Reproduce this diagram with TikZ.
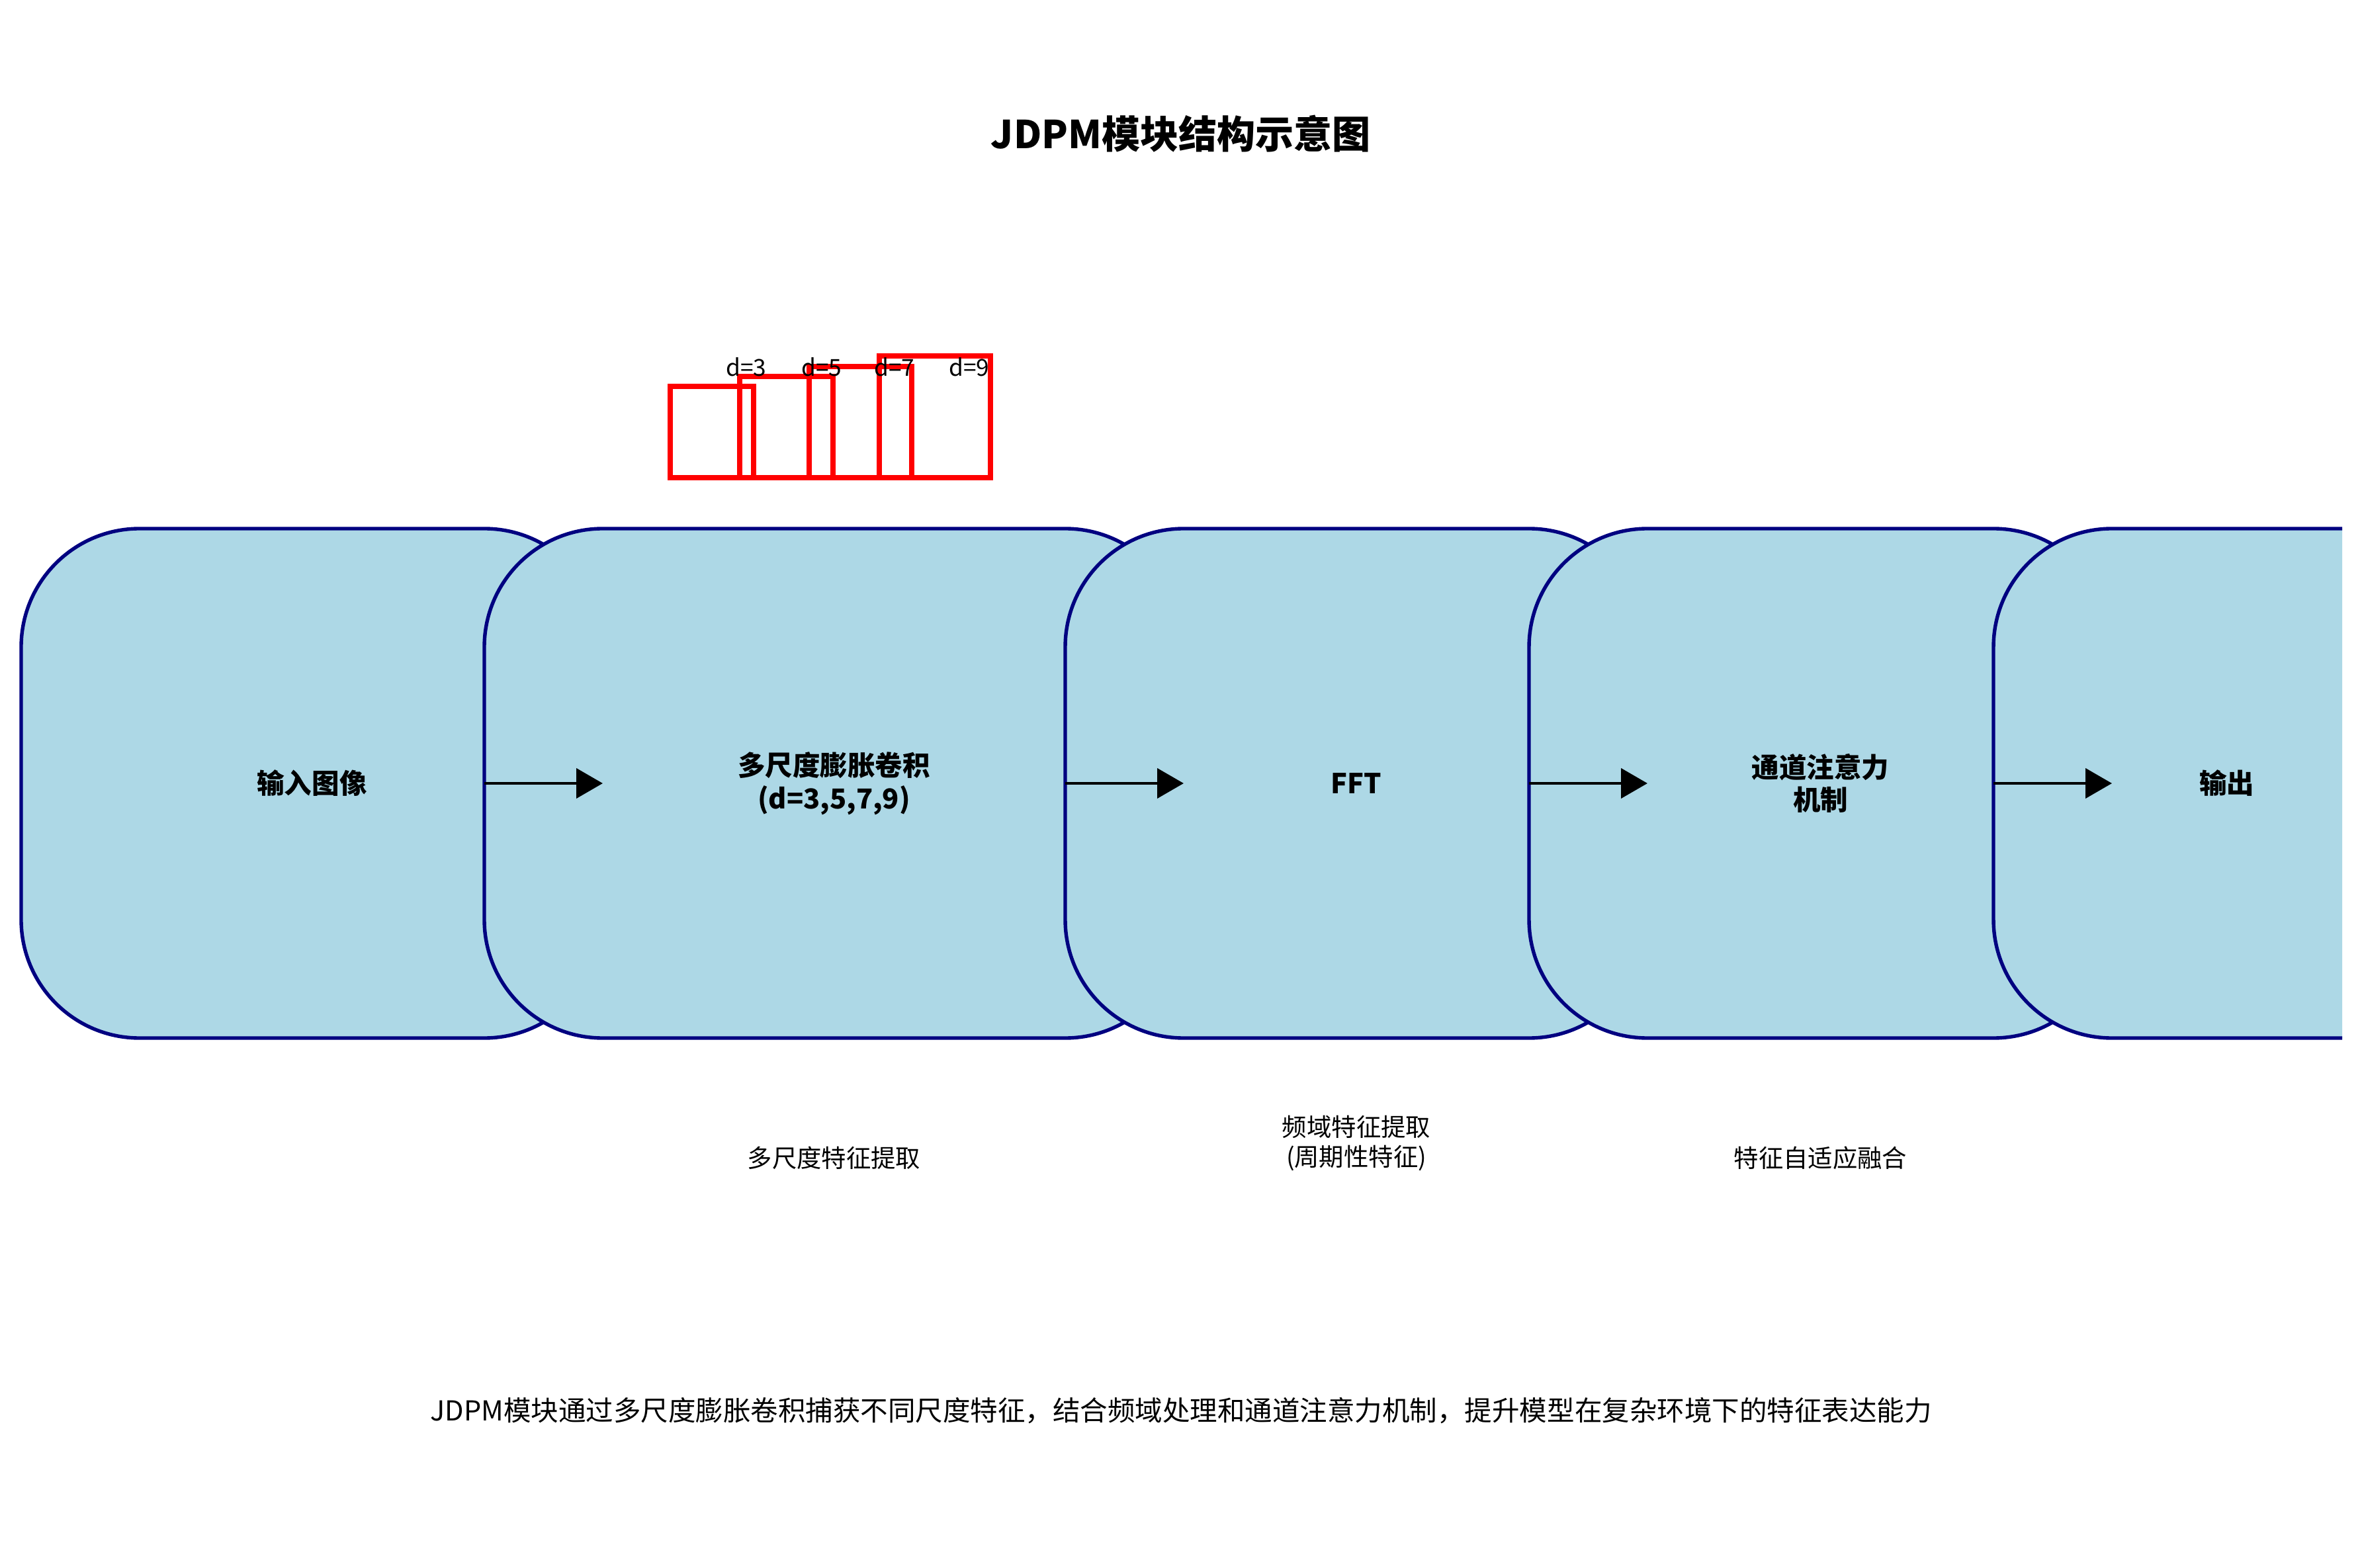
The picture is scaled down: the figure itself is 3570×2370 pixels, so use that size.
\documentclass[tikz,border=0pt]{standalone}
\usepackage{fontspec}
\setmainfont{Noto Sans CJK SC}
\usetikzlibrary{arrows.meta}

\definecolor{boxline}{HTML}{000080}
\definecolor{boxfill}{HTML}{ADD8E6}
\def\pxu{0.2409pt}
\def\pad{43.12pt}

\tikzset{
  stage/.style={draw=boxline, line width=1.3pt, fill=boxfill, rounded corners=\pad,
    minimum height=185.5pt, inner sep=0pt, outer sep=0pt, align=center,
    font=\fontsize{10}{12}\selectfont\bfseries},
  flow/.style={-{Triangle[length=9.6pt,width=10.8pt]}, line width=1.1pt, black},
  note/.style={inner sep=0pt, align=center, font=\fontsize{9}{11}\selectfont},
  dil/.style={draw=red, line width=1.9pt},
}

\begin{document}
\begin{tikzpicture}[x=\pxu, y=-\pxu]
\useasboundingbox (0,0) rectangle (3570,2370);

\node[font=\fontsize{14}{17}\selectfont\bfseries, inner sep=0pt] (title) at (1785,202) {JDPM模块结构示意图};

% dilated kernels
\foreach \l/\t/\r in {1013/584/1139, 1118/569/1259, 1223/554/1378, 1329/538/1497}
  \draw[dil] (\l,\t) rectangle (\r,722);
\foreach \d/\c in {3/1128, 5/1242, 7/1352, 9/1465}
  \node[font=\fontsize{8.5}{10}\selectfont, anchor=base, inner sep=0pt] (d\d) at (\c,569) {d=\d};

% stages
\begin{scope}
\clip (0,0) rectangle (3540,2370);
\node[stage, minimum width=879*\pxu] (input) at (471.5,1184) {输入图像};
\node[stage, minimum width=1057*\pxu] (conv) at (1260.5,1184) {多尺度膨胀卷积\\(d=3,5,7,9)};
\node[stage, minimum width=880*\pxu] (fft) at (2050,1184) {FFT};
\node[stage, minimum width=881*\pxu] (att) at (2751.5,1184) {通道注意力\\机制};
\node[stage, minimum width=705*\pxu] (out) at (3365.5,1184) {输出};
\end{scope}

\draw[flow] ([xshift=-\pad]input.east) -- ([xshift=\pad]conv.west);
\draw[flow] ([xshift=-\pad]conv.east) -- ([xshift=\pad]fft.west);
\draw[flow] ([xshift=-\pad]fft.east) -- ([xshift=\pad]att.west);
\draw[flow] ([xshift=-\pad]att.east) -- ([xshift=\pad]out.west);

\node[note] (convnote) at (1260.5,1750) {多尺度特征提取};
\node[note] (fftnote) at (2050,1728) {频域特征提取\\(周期性特征)};
\node[note] (attnote) at (2751.5,1750) {特征自适应融合};

\node[font=\fontsize{10}{12}\selectfont, inner sep=0pt] (summary) at (1785,2132) {JDPM模块通过多尺度膨胀卷积捕获不同尺度特征，结合频域处理和通道注意力机制，提升模型在复杂环境下的特征表达能力};

\end{tikzpicture}
\end{document}
